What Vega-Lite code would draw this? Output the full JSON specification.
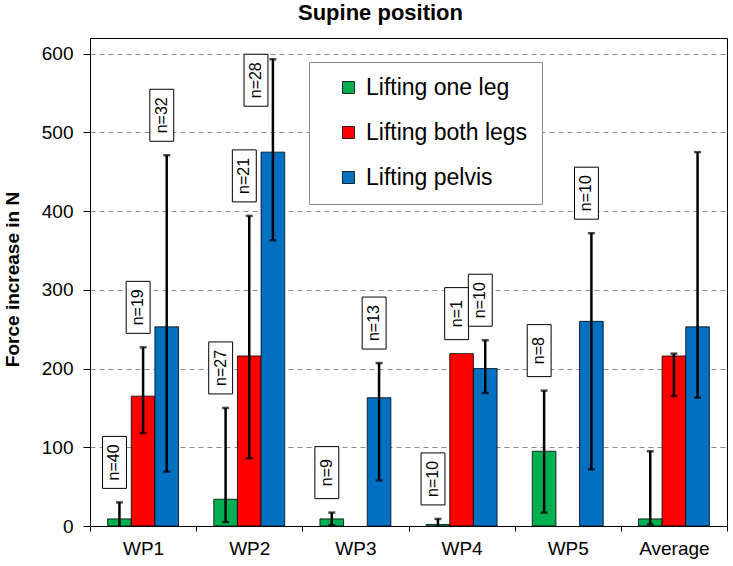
{
  "$schema": "https://vega.github.io/schema/vega-lite/v6.json",
  "width": 637,
  "height": 488,
  "autosize": {"type": "none"},
  "padding": {"left": 90, "top": 38, "right": 6, "bottom": 40},
  "background": "white",
  "title": {"text": "Supine position", "fontSize": 22, "fontWeight": "bold", "anchor": "middle", "offset": 13, "dx": -28, "color": "black"},
  "config": {
    "font": "Liberation Sans",
    "view": {"stroke": "black", "strokeWidth": 1},
    "axis": {"labelColor": "black", "titleColor": "black", "domainColor": "black", "tickColor": "black"}
  },
  "datasets": {
    "bars": [
      {"cat": "WP1", "series": "Lifting one leg", "value": 9, "lo": 0, "hi": 30, "n": 40},
      {"cat": "WP1", "series": "Lifting both legs", "value": 165, "lo": 118, "hi": 227, "n": 19},
      {"cat": "WP1", "series": "Lifting pelvis", "value": 253, "lo": 69, "hi": 471, "n": 32},
      {"cat": "WP2", "series": "Lifting one leg", "value": 34, "lo": 5, "hi": 150, "n": 27},
      {"cat": "WP2", "series": "Lifting both legs", "value": 216, "lo": 86, "hi": 394, "n": 21},
      {"cat": "WP2", "series": "Lifting pelvis", "value": 475, "lo": 363, "hi": 593, "n": 28},
      {"cat": "WP3", "series": "Lifting one leg", "value": 9, "lo": 1, "hi": 17, "n": 9},
      {"cat": "WP3", "series": "Lifting pelvis", "value": 163, "lo": 58, "hi": 207, "n": 13},
      {"cat": "WP4", "series": "Lifting one leg", "value": 2, "lo": 0, "hi": 9, "n": 10},
      {"cat": "WP4", "series": "Lifting both legs", "value": 219, "lo": null, "hi": null, "n": 1},
      {"cat": "WP4", "series": "Lifting pelvis", "value": 200, "lo": 169, "hi": 236, "n": 10},
      {"cat": "WP5", "series": "Lifting one leg", "value": 95, "lo": 17, "hi": 172, "n": 8},
      {"cat": "WP5", "series": "Lifting pelvis", "value": 260, "lo": 72, "hi": 372, "n": 10},
      {"cat": "Average", "series": "Lifting one leg", "value": 9, "lo": 2, "hi": 95, "n": null},
      {"cat": "Average", "series": "Lifting both legs", "value": 216, "lo": 165, "hi": 219, "n": null},
      {"cat": "Average", "series": "Lifting pelvis", "value": 253, "lo": 163, "hi": 475, "n": null}
    ]
  },
  "data": {"name": "bars"},
  "transform": [
    {"calculate": "isValid(datum.hi) ? datum.hi : datum.value", "as": "top"},
    {"calculate": "datum.cat === 'WP2' && datum.series === 'Lifting pelvis'", "as": "special"},
    {"calculate": "'n=' + datum.n", "as": "nlabel"}
  ],
  "encoding": {
    "x": {
      "field": "cat", "type": "nominal",
      "sort": ["WP1", "WP2", "WP3", "WP4", "WP5", "Average"],
      "scale": {"paddingInner": 0, "paddingOuter": 0},
      "axis": {"title": null, "labelAngle": 0, "labelFontSize": 19, "labelPadding": 8, "tickSize": 5, "tickBand": "extent", "grid": false, "domainWidth": 1}
    },
    "xOffset": {
      "field": "series", "type": "nominal",
      "sort": ["Lifting one leg", "Lifting both legs", "Lifting pelvis"],
      "scale": {"paddingInner": 0, "paddingOuter": 0.745}
    }
  },
  "layer": [
    {
      "mark": {"type": "bar", "stroke": "black", "strokeWidth": 0.8},
      "encoding": {
        "y": {
          "field": "value", "type": "quantitative",
          "scale": {"domain": [0, 620], "nice": false},
          "axis": {
            "title": "Force increase in N", "titleFontSize": 19, "titleFontWeight": "bold",
            "titleX": -78, "titleY": 241, "titleBaseline": "middle",
            "values": [0, 100, 200, 300, 400, 500, 600],
            "labelFontSize": 19, "labelPadding": 10, "tickSize": 7,
            "grid": true, "gridDash": [5, 4], "gridColor": "#8c8c8c", "gridWidth": 1
          }
        },
        "color": {
          "field": "series", "type": "nominal",
          "scale": {"domain": ["Lifting one leg", "Lifting both legs", "Lifting pelvis"], "range": ["#00B050", "#FF0000", "#0070C0"]},
          "legend": {
            "title": null, "orient": "none", "legendX": 219, "legendY": 24,
            "fillColor": "white", "strokeColor": "#8c8c8c", "padding": 14,
            "symbolOffset": 14, "symbolType": "square", "symbolSize": 144,
            "symbolStrokeColor": "black", "symbolStrokeWidth": 0.8,
            "labelFontSize": 23, "labelColor": "black", "labelOffset": 6, "rowPadding": 21, "labelLimit": 300
          }
        }
      }
    },
    {
      "transform": [{"filter": "isValid(datum.hi)"}],
      "mark": {"type": "rule", "color": "black", "strokeWidth": 2.5},
      "encoding": {"y": {"field": "lo", "type": "quantitative"}, "y2": {"field": "hi"}}
    },
    {
      "transform": [{"filter": "isValid(datum.hi)"}],
      "mark": {"type": "tick", "color": "black", "thickness": 2.5, "size": 7},
      "encoding": {"y": {"field": "hi", "type": "quantitative"}}
    },
    {
      "transform": [{"filter": "isValid(datum.lo) && datum.lo > 0"}],
      "mark": {"type": "tick", "color": "black", "thickness": 2.5, "size": 7},
      "encoding": {"y": {"field": "lo", "type": "quantitative"}}
    },
    {
      "transform": [{"filter": "isValid(datum.n) && !datum.special"}],
      "mark": {"type": "point", "shape": "M-0.65,-1L0.27,-1L0.27,1L-0.65,1Z", "size": 2704, "filled": true, "fill": "white", "stroke": "black", "strokeWidth": 1, "opacity": 1, "yOffset": -40},
      "encoding": {"y": {"field": "top", "type": "quantitative"}}
    },
    {
      "transform": [{"filter": "isValid(datum.n) && !datum.special"}],
      "mark": {"type": "text", "angle": 270, "align": "center", "baseline": "middle", "fontSize": 16, "color": "black", "dx": 40, "dy": -5},
      "encoding": {"y": {"field": "top", "type": "quantitative"}, "text": {"field": "nlabel", "type": "nominal"}}
    },
    {
      "transform": [{"filter": "datum.special"}],
      "mark": {"type": "point", "shape": "M-1.11,-1L-0.19,-1L-0.19,1L-1.11,1Z", "size": 2704, "filled": true, "fill": "white", "stroke": "black", "strokeWidth": 1, "opacity": 1, "yOffset": 21},
      "encoding": {"y": {"field": "top", "type": "quantitative"}}
    },
    {
      "transform": [{"filter": "datum.special"}],
      "mark": {"type": "text", "angle": 270, "align": "center", "baseline": "middle", "fontSize": 16, "color": "black", "dx": -21, "dy": -17},
      "encoding": {"y": {"field": "top", "type": "quantitative"}, "text": {"field": "nlabel", "type": "nominal"}}
    }
  ]
}
